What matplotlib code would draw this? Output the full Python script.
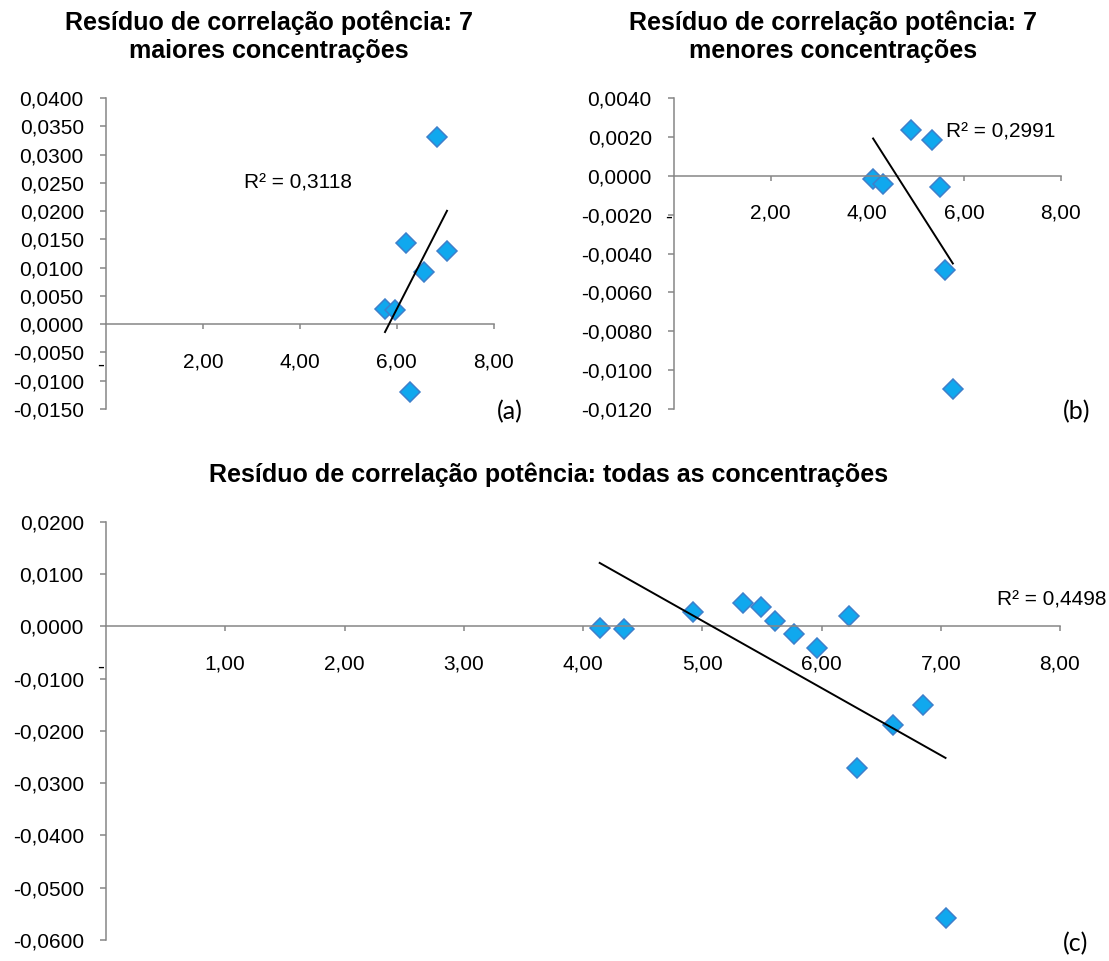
import matplotlib
matplotlib.use("Agg")
import matplotlib.pyplot as plt
import numpy as np

# dados
x_maiores = [5.76, 5.96, 6.20, 6.28, 6.57, 6.84, 7.04]
y_maiores = [0.0027, 0.0025, 0.0143, -0.0120, 0.0092, 0.0331, 0.0130]

x_menores = [4.12, 4.33, 4.91, 5.34, 5.50, 5.60, 5.77]
y_menores = [-0.00017, -0.00041, 0.00233, 0.00182, -0.00058, -0.00484, -0.01096]

x_todas = [4.14, 4.34, 4.92, 5.34, 5.49, 5.61, 5.77, 5.96, 6.23, 6.30, 6.60, 6.85, 7.04]
y_todas = [-0.0003, -0.0006, 0.0028, 0.0044, 0.0036, 0.0011, -0.0015, -0.0042,
           0.0019, -0.0271, -0.0189, -0.0150, -0.0558]

r2_labels = ["R² = 0,3118", "R² = 0,2991", "R² = 0,4498"]
titles = ["Resíduo de correlação potência: 7\nmaiores concentrações",
          "Resíduo de correlação potência: 7\nmenores concentrações",
          "Resíduo de correlação potência: todas as concentrações"]

W, H = 1109, 961
GRAY = "#868686"
FILL = "#10A8EE"
EDGE = "#3E7FCB"
plt.rcParams['font.family'] = ['Liberation Sans', 'DejaVu Sans']


def rect(l, r, t, b):
    return [l / W, 1 - b / H, (r - l) / W, (b - t) / H]


def fmt(v, nd):
    return f"{v:.{nd}f}".replace('.', ',')


def draw(ax, x, y, ylim, ystep, xticks):
    ax.set_xlim(0, 8)
    ax.set_ylim(*ylim)
    for s in ['top', 'right']:
        ax.spines[s].set_visible(False)
    ax.spines['bottom'].set_position(('data', 0))
    for s in ['left', 'bottom']:
        ax.spines[s].set_color(GRAY)
        ax.spines[s].set_linewidth(1.1)
    yt = np.arange(ylim[0], ylim[1] + ystep / 2, ystep)
    ax.set_yticks(yt)
    ax.set_yticklabels([fmt(0 if abs(v) < 1e-12 else v, 4) for v in yt])
    ax.set_xticks(xticks)
    ax.set_xticklabels([fmt(v, 2) for v in xticks])
    ax.tick_params(axis='y', direction='out', length=4, width=1.1, color=GRAY,
                   pad=12, labelsize=15)
    ax.tick_params(axis='x', direction='out', length=3.6, width=1.1, color=GRAY,
                   pad=16.5, labelsize=15)
    ax.annotate("-", (0, 0), xytext=(-4, -23), textcoords='offset points',
                ha='center', va='top', fontsize=15)
    ax.plot(x, y, 'D', ms=9.8, mfc=FILL, mec=EDGE, mew=1.1, zorder=2, clip_on=False)
    k, b = np.polyfit(x, y, 1)
    xl = np.array([min(x), max(x)])
    ax.plot(xl, k * xl + b, color='black', lw=1.4, zorder=3)


fig = plt.figure(figsize=(W / 100, H / 100), dpi=100)

ax_a = fig.add_axes(rect(106, 493.5, 98, 409))
draw(ax_a, x_maiores, y_maiores, (-0.015, 0.04), 0.005, [2, 4, 6, 8])
ax_b = fig.add_axes(rect(674, 1060.6, 98, 409))
draw(ax_b, x_menores, y_menores, (-0.012, 0.004), 0.002, [2, 4, 6, 8])
ax_c = fig.add_axes(rect(106, 1060, 521.7, 940))
draw(ax_c, x_todas, y_todas, (-0.06, 0.02), 0.01, [1, 2, 3, 4, 5, 6, 7, 8])

# títulos
fig.text(269 / W, 1 - 37 / H, titles[0], ha='center', va='center', fontsize=18,
         fontweight='bold', linespacing=1.2)
fig.text(833 / W, 1 - 37 / H, titles[1], ha='center', va='center', fontsize=18,
         fontweight='bold', linespacing=1.2)
fig.text(549 / W, 1 - 475 / H, titles[2], ha='center', va='center', fontsize=18,
         fontweight='bold')

# R²
fig.text(244 / W, 1 - 183 / H, r2_labels[0], ha='left', va='center', fontsize=15)
fig.text(946 / W, 1 - 132 / H, r2_labels[1], ha='left', va='center', fontsize=15)
fig.text(997 / W, 1 - 600 / H, r2_labels[2], ha='left', va='center', fontsize=15)

# letras dos painéis
for lab, px, py in [("(a)", 497, 412), ("(b)", 1063, 412), ("(c)", 1063, 944)]:
    fig.text(px / W, 1 - py / H, lab, ha='left', va='center', fontsize=18,
             family=['Lato', 'DejaVu Sans'])

fig.savefig("out.png", dpi=100)
